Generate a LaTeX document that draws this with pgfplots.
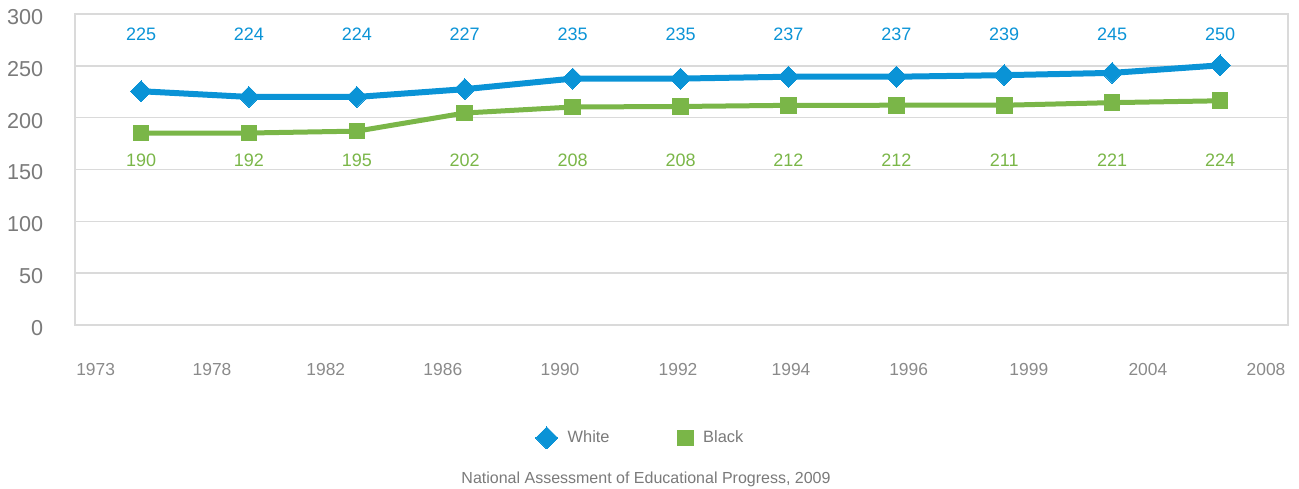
\documentclass[border=0pt]{standalone}
\usepackage{fontspec}
\setmainfont{Liberation Sans}
\usepackage{pgfplots}
\pgfplotsset{compat=1.18}
\definecolor{blueC}{HTML}{0A93D6}
\definecolor{greenC}{HTML}{7AB648}
\definecolor{gridC}{HTML}{DADADA}
\definecolor{ytxt}{HTML}{7A7A7A}
\definecolor{xtxt}{HTML}{8A8A8A}
\begin{document}
\begin{tikzpicture}
\begin{axis}[
  name=ax,
  scale only axis,
  width=606.5pt, height=155.5pt,
  xmin=-0.612, xmax=10.63,
  ymin=0, ymax=300,
  ytick={0,50,100,150,200,250,300},
  xtick={-0.421,0.658,1.712,2.797,3.883,4.977,6.024,7.114,8.228,9.331,10.426},
  xticklabels={1973,1978,1982,1986,1990,1992,1994,1996,1999,2004,2008},
  major tick length=0pt,
  axis line style={gridC, line width=0.8pt},
  ymajorgrids, grid style={gridC, line width=0.8pt},
  /pgf/number format/assume math mode=true,
  yticklabel style={font=\fontsize{10.8}{12}\selectfont, text=ytxt, xshift=-12.4pt, yshift=-1.5pt},
  xticklabel style={font=\fontsize{8.7}{10}\selectfont, text=xtxt, yshift=-15.5pt},
  legend style={draw=none, at={(0.467,-0.363)}, anchor=center,
    font=\fontsize{8.2}{10}\selectfont, text=ytxt,
    legend columns=2,
    /tikz/every odd column/.append style={column sep=3pt},
    /tikz/every even column/.append style={column sep=32pt}},
  legend cell align=left,
  clip=false,
]
\addplot[blueC, line width=3pt, mark=square*, mark size=3.7pt, mark options={rotate=45, line width=0pt, fill=blueC}, forget plot]
  coordinates {(0,225.5) (1,220) (2,220) (3,227.5) (4,237.7) (5,237.7) (6,239.5) (7,239.5) (8,241) (9,243.2) (10,250.5)};
\addplot[greenC, line width=2.5pt, mark=square*, mark size=3.9pt, mark options={line width=0pt, fill=greenC}, forget plot]
  coordinates {(0,185.2) (1,185.2) (2,187) (3,204.5) (4,210.3) (5,210.8) (6,211.9) (7,212) (8,212) (9,214.5) (10,216.3)};
% data labels
\addplot[draw=none, mark=none, forget plot, nodes near coords, point meta=explicit symbolic,
  nodes near coords style={anchor=center, text=blueC, font=\fontsize{9}{10}\selectfont}]
  coordinates {(0,280.2)[225] (1,280.2)[224] (2,280.2)[224] (3,280.2)[227] (4,280.2)[235] (5,280.2)[235] (6,280.2)[237] (7,280.2)[237] (8,280.2)[239] (9,280.2)[245] (10,280.2)[250]};
\addplot[draw=none, mark=none, forget plot, nodes near coords, point meta=explicit symbolic,
  nodes near coords style={anchor=center, text=greenC, font=\fontsize{9}{10}\selectfont}]
  coordinates {(0,159.2)[190] (1,159.2)[192] (2,159.2)[195] (3,159.2)[202] (4,159.2)[208] (5,159.2)[208] (6,159.2)[212] (7,159.2)[212] (8,159.2)[211] (9,159.2)[221] (10,159.2)[224]};
\addlegendimage{only marks, mark=square*, mark size=3.9pt, mark options={rotate=45, line width=0pt, fill=blueC, draw=blueC}}
\addlegendentry{White}
\addlegendimage{only marks, mark=square*, mark size=3.9pt, mark options={line width=0pt, fill=greenC, draw=greenC}}
\addlegendentry{Black}
\end{axis}
\node[font=\fontsize{8}{10}\selectfont, text=ytxt, anchor=center] at ([xshift=-17.75pt, yshift=-77pt]ax.south) {National Assessment of Educational Progress, 2009};
\pgfresetboundingbox
\path ([xshift=-37.5pt, yshift=-81.5pt]ax.south west) rectangle ([xshift=5.5pt, yshift=7pt]ax.north east);
\end{tikzpicture}
\end{document}
